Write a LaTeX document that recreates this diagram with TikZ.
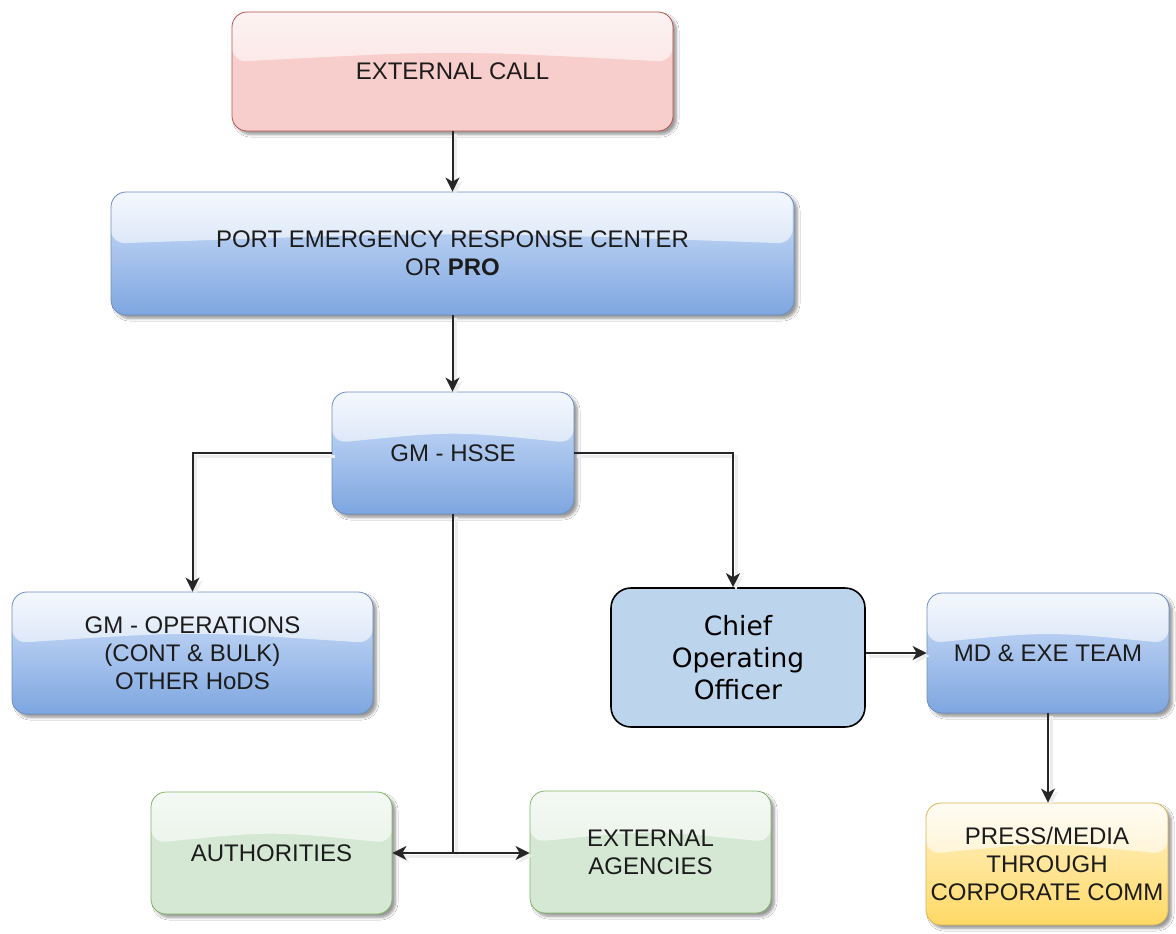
\documentclass[tikz,border=0pt]{standalone}
\usepackage{fontspec}
\setmainfont{Liberation Sans}
\newfontfamily\coofont{DejaVu Sans}
\usetikzlibrary{shadows.blur,fadings,arrows.meta,calc}

\definecolor{pinkfill}{HTML}{F8CECC}
\definecolor{pinkline}{HTML}{B85450}
\definecolor{bluetop}{HTML}{D2E2FA}
\definecolor{bluebot}{HTML}{7EA6E0}
\definecolor{blueline}{HTML}{6C8EBF}
\definecolor{greenfill}{HTML}{D5E8D4}
\definecolor{greenline}{HTML}{82B366}
\definecolor{yellowtop}{HTML}{FFF2CC}
\definecolor{yellowbot}{HTML}{FFD966}
\definecolor{yellowline}{HTML}{D6B656}
\definecolor{coofill}{HTML}{BDD5EC}
\definecolor{linkgray}{HTML}{262626}
\definecolor{textdark}{HTML}{1C1C1C}

% white sheen over the upper part of each glossy box
\tikzfading[name=glassfade, top color=transparent!25, bottom color=transparent!70]

\tikzset{
  glass/.style={path picture={
    \fill[white, path fading=glassfade]
      let \p1=(path picture bounding box.north west),
          \p2=(path picture bounding box.south east) in
      (\x1,\y1) -- (\x1,{\y1+0.42*(\y2-\y1)})
      .. controls ({0.5*(\x1+\x2)},{\y1+0.32*(\y2-\y1)}) ..
      (\x2,{\y1+0.42*(\y2-\y1)}) -- (\x2,\y1) -- cycle;
  }},
  glossy/.style={rectangle, rounded corners=15pt, line width=0.8pt,
    align=center, inner sep=0pt, text=textdark,
    font=\fontsize{24}{28}\selectfont,
    blur shadow={shadow xshift=3.5pt, shadow yshift=-3.5pt,
      shadow opacity=40, shadow blur steps=6, shadow blur radius=2.5pt},
    glass},
  pinkbox/.style={glossy, draw=pinkline, fill=pinkfill},
  bluebox/.style={glossy, draw=blueline, top color=bluetop, bottom color=bluebot},
  greenbox/.style={glossy, draw=greenline, fill=greenfill},
  yellowbox/.style={glossy, draw=yellowline, top color=yellowtop, bottom color=yellowbot},
  coobox/.style={rectangle, rounded corners=20pt, draw=black, line width=1.6pt,
    fill=coofill, align=center, inner sep=0pt,
    font=\coofont\fontsize{26.5}{32}\selectfont},
  link/.style={draw=linkgray, line width=2pt,
    preaction={draw=black!7, line width=3pt, transform canvas={shift={(3pt,-3pt)}}}},
  arrowed/.style={link, -{Stealth[length=14pt,width=14pt,inset=4pt]}},
}

\begin{document}
\begin{tikzpicture}[x=1pt, y=-1pt]
\useasboundingbox[fill=white] (0,0) rectangle (1176,934);

% boxes
\node[pinkbox, minimum width=441pt, minimum height=119pt] (ext) at (452.5,71.5) {EXTERNAL CALL};
\node[bluebox, minimum width=683pt, minimum height=123pt] (perc) at (452.5,253.5)
  {PORT EMERGENCY RESPONSE CENTER\\OR \textbf{PRO}};
\node[bluebox, minimum width=242pt, minimum height=122pt] (hsse) at (453,453) {GM - HSSE};
\node[bluebox, minimum width=361pt, minimum height=122pt] (ops) at (192.5,653)
  {GM - OPERATIONS\\(CONT \& BULK)\\OTHER HoDS};
\node[coobox, minimum width=254pt, minimum height=139pt] (coo) at (738,657.5)
  {Chief\\Operating\\Officer};
\node[bluebox, minimum width=242pt, minimum height=120pt] (md) at (1048,653) {MD \& EXE TEAM};
\node[greenbox, minimum width=241pt, minimum height=122pt] (auth) at (271.5,853) {AUTHORITIES};
\node[greenbox, minimum width=241pt, minimum height=122pt] (agen) at (650.5,852)
  {EXTERNAL\\AGENCIES};
\node[yellowbox, minimum width=242pt, minimum height=122pt] (press) at (1047,864)
  {PRESS/MEDIA\\THROUGH\\CORPORATE COMM};

% connectors
\draw[arrowed] (ext.south) -- (perc.north);
\draw[arrowed] (perc.south) -- (perc.south |- hsse.north);
\draw[arrowed] (hsse.west) -| (ops.north);
\coordinate (cootop) at ($(coo.north)+(-5,0)$);
\draw[arrowed] (hsse.east) -| (cootop);
\coordinate (split) at (hsse.south |- auth.east);
\draw[link] (hsse.south) -- (split);
\draw[arrowed] (split) -- (auth.east);
\draw[arrowed] (split) -- (split -| agen.west);
\draw[arrowed] (coo.east |- md.west) -- (md.west);
\draw[arrowed] (md.south) -- (md.south |- press.north);
\end{tikzpicture}
\end{document}
